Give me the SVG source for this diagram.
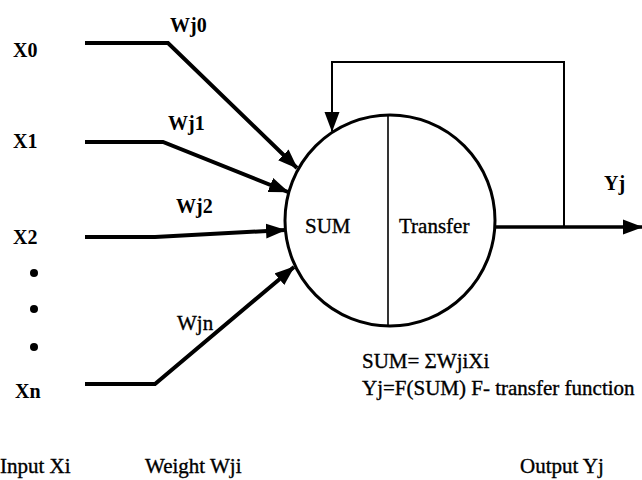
<svg xmlns="http://www.w3.org/2000/svg" width="642" height="480" viewBox="0 0 642 480">
<defs>
<marker id="ah" markerUnits="userSpaceOnUse" markerWidth="20" markerHeight="16" refX="19" refY="7.5" orient="auto" viewBox="0 0 20 15">
<path d="M0,0 L20,7.5 L0,15 z" fill="#000"/>
</marker>
<style>
.t{font-family:"Liberation Serif","Times New Roman",serif;font-size:21px;fill:#000;stroke:#000;stroke-width:0.35}
.b{font-weight:bold;font-size:20px;stroke-width:0}
.in{fill:none;stroke:#000;stroke-width:4;stroke-linejoin:miter}
</style>
</defs>
<rect width="642" height="480" fill="#fff"/>
<g id="neuron">
<ellipse cx="390" cy="220.5" rx="105" ry="105.5" fill="#fff" stroke="#000" stroke-width="3"/>
<line x1="388" y1="115" x2="388" y2="326" stroke="#000" stroke-width="1.6"/>
<text class="t" x="305" y="233">SUM</text>
<text class="t" x="399" y="233">Transfer</text>
</g>
<g id="connectors">
<polyline class="in" points="85,43 168,43 297,168" marker-end="url(#ah)"/>
<polyline class="in" points="85,142 163,142 288,192" marker-end="url(#ah)"/>
<polyline class="in" points="85,237 155,237 285,230" marker-end="url(#ah)"/>
<polyline class="in" points="85,384 155,384 294,267" marker-end="url(#ah)"/>
<polyline points="564,227 564,62 332,62 332,131" fill="none" stroke="#000" stroke-width="2" marker-end="url(#ah)"/>
<line x1="495" y1="227" x2="642" y2="227" stroke="#000" stroke-width="3.5" marker-end="url(#ah)"/>
</g>
<g id="inputs">
<text class="t b" x="13" y="57">X0</text>
<text class="t b" x="13" y="148">X1</text>
<text class="t b" x="13" y="244">X2</text>
<circle cx="34" cy="273" r="4" fill="#000"/>
<circle cx="34" cy="309" r="4" fill="#000"/>
<circle cx="34" cy="347" r="4" fill="#000"/>
<text class="t b" x="15" y="398">Xn</text>
</g>
<g id="weights">
<text class="t b" x="170" y="32">Wj0</text>
<text class="t b" x="168" y="130">Wj1</text>
<text class="t b" x="176" y="213">Wj2</text>
<text class="t" x="177" y="330">Wjn</text>
</g>
<g id="output">
<text class="t b" x="604" y="190">Yj</text>
</g>
<g id="formulas">
<text class="t" x="362" y="368">SUM= ΣWjiXi</text>
<text class="t" x="362" y="395">Yj=F(SUM) F- transfer function</text>
</g>
<g id="captions">
<text class="t" x="0" y="473">Input Xi</text>
<text class="t" x="145" y="473">Weight Wji</text>
<text class="t" x="520" y="473">Output Yj</text>
</g>
</svg>
